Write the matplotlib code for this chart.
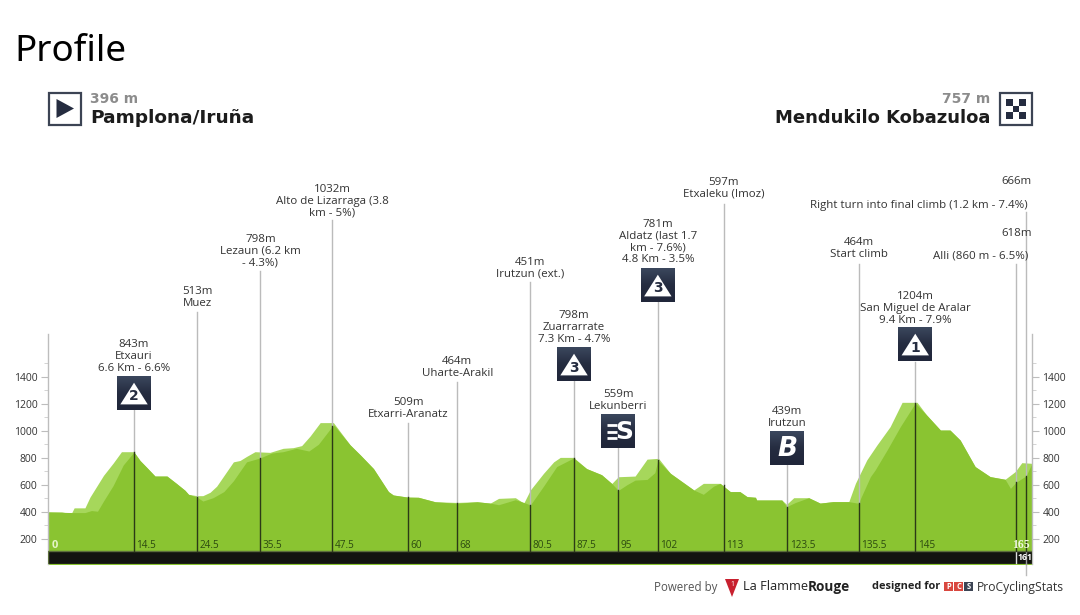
import matplotlib
matplotlib.use("Agg")
import matplotlib.pyplot as plt
import numpy as np
from matplotlib.patches import Rectangle, Polygon

# ---------- data ----------
back_km = [0.1, 2.4, 3, 4.1, 4.5, 6.3, 7.15, 9.4, 11, 12.4, 14.4, 15.5, 16.6, 18, 20, 21.6, 23, 23.6, 25, 26, 27.2, 28.3,
           31.1, 32.2, 33.3, 34.7, 37.2, 39.4, 41.1, 42.5, 43.9, 45.6, 47.8, 50.6, 52.3, 54.5, 57, 57.8, 60.2, 62, 64.8,
           68.4, 71.8, 74, 75.4, 78.2, 79.6, 80.7, 82.9, 84.6, 85.7, 87.9, 90.1, 92.6, 94.3, 95.4, 98.2, 100.2, 102.1,
           104.1, 108, 109.6, 112.4, 114.1, 115.7, 116.9, 118.3, 118.5, 122.7, 123.5, 124.7, 127.2, 129.1, 131.3, 133.9,
           135, 136.9, 138.6, 140.8, 142.8, 145.3, 146.9, 149.2, 150.8, 152.5, 155, 157.5, 160, 161.7, 162.8, 164.5]
back_elev = [400, 400, 395, 395, 430, 430, 510, 670, 760, 845, 845, 780, 730, 665, 665, 610, 560, 530, 520, 520, 545, 590,
             770, 780, 810, 845, 840, 870, 875, 890, 960, 1060, 1060, 895, 821, 720, 550, 525, 510, 508, 475,
             470, 475, 465, 500, 505, 465, 562, 685, 770, 803, 803, 720, 675, 610, 660, 665, 790, 796,
             685, 562, 611, 611, 550, 550, 513, 508, 488, 488, 456, 505, 505, 465, 476, 476,
             611, 784, 895, 1030, 1210, 1210, 1116, 1005, 1005, 931, 735, 661, 641, 698, 764, 759]
front_km = [0.1, 4.1, 6.3, 7.4, 8.4, 9.4, 11, 12.7, 14.5, 15.5, 16.6, 18, 20, 21.6, 23, 23.6, 25, 26, 27.7, 29.5, 31.1,
            33.3, 35.5, 37.5, 39.4, 41.6, 43.7, 45.3, 47.6, 47.9, 50.6, 52.3, 54.5, 57, 57.8, 60.2, 62, 64.8, 68.4,
            71.8, 74, 75.4, 78.2, 79.6, 80.7, 82.9, 85.1, 87.9, 90.1, 92.6, 94.3, 95.4, 96.8, 98.2, 100.2, 101.5, 102,
            104.1, 108, 109.6, 111.3, 112.4, 114.1, 115.7, 116.9, 118.3, 118.5, 122.7, 123.5, 125, 127.2, 129.1, 131.3,
            133.9, 135.5, 137.5, 138.3, 140.3, 142.5, 145, 146.9, 149.2, 150.8, 152.5, 155, 157.5, 160, 160.9, 161.8,
            163.5, 164.5]
front_elev = [400, 395, 395, 410, 405, 480, 594, 747, 843, 780, 730, 665, 665, 610, 560, 530, 510, 480, 505, 550, 630,
              770, 798, 835, 845, 870, 850, 900, 1032, 1040, 895, 821, 720, 550, 525, 509, 508, 475, 464,
              475, 465, 453, 490, 470, 451, 590, 735, 798, 720, 675, 610, 559, 600, 635, 640, 690, 781,
              685, 562, 530, 590, 611, 550, 550, 513, 508, 488, 488, 439, 470, 505, 465, 476,
              476, 464, 660, 710, 858, 1030, 1204, 1116, 1005, 1005, 931, 735, 661, 641, 574, 618,
              666, 759]

mark_km = [14.5, 25.1, 35.6, 47.6, 60.3, 68.5, 80.7, 88, 95.4, 102, 113, 123.6, 135.6, 145, 161.8, 163.5]
mark_elev = [843, 513, 798, 1032, 509, 464, 451, 798, 559, 781, 597, 439, 464, 1204, 618, 666]
km_labels = ["14.5", "24.5", "35.5", "47.5", "60", "68", "80.5", "87.5", "95", "102", "113", "123.5", "135.5", "145", "", ""]
mark_text = [["843m", "Etxauri", "6.6 Km - 6.6%"], ["513m", "Muez"], ["798m", "Lezaun (6.2 km", "- 4.3%)"],
             ["1032m", "Alto de Lizarraga (3.8", "km - 5%)"], ["509m", "Etxarri-Aranatz"], ["464m", "Uharte-Arakil"],
             ["451m", "Irutzun (ext.)"], ["798m", "Zuarrarrate", "7.3 Km - 4.7%"], ["559m", "Lekunberri"],
             ["781m", "Aldatz (last 1.7", "km - 7.6%)", "4.8 Km - 3.5%"], ["597m", "Etxaleku (Imoz)"], ["439m", "Irutzun"],
             ["464m", "Start climb"], ["1204m", "San Miguel de Aralar", "9.4 Km - 7.9%"]]
mark_badge = ["2", "", "", "", "", "", "", "3", "S", "3", "", "B", "", "1"]
yticks = [200, 400, 600, 800, 1000, 1200, 1400]
minor_ticks = [300, 500, 700, 900, 1100, 1300, 1500]

# ---------- layout (pixels) ----------
text_y = [343, 290, 238, 188, 401, 360, 261, 314, 393, 223, 181, 410, 241, 295]
top_y = [410, 312, 271, 220, 423, 382, 282, 381, 448, 302, 204, 465, 264, 362]
badge_y = [377, 0, 0, 0, 0, 0, 0, 348, 415, 269, 0, 432, 0, 328]
FONT = "Open Sans"
NAVY = "#252c40"
W, H = 1080, 615

fig = plt.figure(figsize=(W / 100, H / 100), dpi=100, facecolor="white")
ax = fig.add_axes([48 / W, 1 - 564 / H, 984 / W, 230 / H])
ax.set_xlim(0.13, 164.5)
ax.set_ylim(15, 1715)
ax.patch.set_alpha(0)
ov = fig.add_axes([0, 0, 1, 1], zorder=5)
ov.axis("off")
ov.set_xlim(0, W)
ov.set_ylim(H, 0)

# profile
ax.fill_between(back_km, back_elev, 0, color="#a6d75b", lw=0, zorder=1)
ax.fill_between(front_km, front_elev, 0, color="#8ac431", lw=0, zorder=2)
ax.axhspan(15, 110, facecolor="#121310", edgecolor="#5c6e3c", lw=1, zorder=4)

# axes
for s in ["top", "bottom"]:
    ax.spines[s].set_visible(False)
for s in ["left", "right"]:
    ax.spines[s].set_color("#bdbdbd")
    ax.spines[s].set_linewidth(1)
ax.set_xticks([])
ax.set_yticks(yticks)
ax.set_yticks(minor_ticks, minor=True)
ax.tick_params(axis="y", which="major", left=True, right=True, labelleft=True, labelright=True,
               length=5, color="#bdbdbd", labelsize=7.5, labelcolor="#333333", pad=2.5)
ax.tick_params(axis="y", which="minor", left=True, right=True, length=3, color="#cccccc")
for lab in ax.get_yticklabels():
    lab.set_fontfamily(FONT)


def px(km, elev=0):
    x, y = ax.transData.transform((km, elev))
    return x * W / fig.bbox.width, H - y * H / fig.bbox.height


def label(x, y, s, size=8.25, ha="center", color="#333333", **kw):
    kw.setdefault("family", FONT)
    ov.text(x, y + 1.3, s, fontsize=size, ha=ha, va="center", color=color, **kw)


GRAD = np.array([[0.0], [1.0]])


def badge(x, y, kind):
    b = 34
    ov.imshow(np.linspace(0, 1, 16).reshape(-1, 1), extent=(x - b / 2, x + b / 2, y + 33.5, y), aspect="auto",
              cmap=matplotlib.colors.LinearSegmentedColormap.from_list("b", ["#3a465c", NAVY, "#20263a"]),
              interpolation="bilinear", zorder=3)
    ov.set_xlim(0, W)
    ov.set_ylim(H, 0)
    if kind in "123":
        ov.add_patch(Polygon([(x - 13.7, y + 27.4), (x + 13.7, y + 27.4), (x, y + 5.7)], fc="white", ec="none", zorder=4))
        ov.text(x, y + 19.5, kind, fontsize=10, color=NAVY, weight="bold", family="DejaVu Sans", ha="center", va="center", zorder=5)
    elif kind == "S":
        ov.text(x + 5.5, y + 16.7, "S", fontsize=18, color="white", weight="bold", family="DejaVu Sans", ha="center", va="center", zorder=5)
        for dy in (10, 16.7, 23):
            ov.plot([x - 11.5, x - 1.5], [y + dy, y + dy], color="white", lw=2, solid_capstyle="butt", zorder=5)
    else:
        ov.text(x, y + 16.7, "B", fontsize=19, color="white", weight="bold", style="italic", family="DejaVu Sans", ha="center", va="center", zorder=5)


# marks
for i, km in enumerate(mark_km):
    x, ye = px(km, mark_elev[i])
    _, yb = px(km, 110)
    if i < len(text_y):
        top = top_y[i]
        for j, line in enumerate(mark_text[i]):
            label(x, text_y[i] + j * 11.9, line)
        if mark_badge[i]:
            badge(x, badge_y[i], mark_badge[i])
        ov.plot([x, x], [yb, ye], color="#2c3a17", lw=1, zorder=3)
        if km_labels[i]:
            ov.text(x + 2.5, 546, km_labels[i], fontsize=7.2, family=FONT, color="#2c4a10", ha="left", va="center")
    else:
        top = 264 if km < 163 else 212
        ov.plot([x, x], [yb, ye], color="#2c3a17", lw=1, zorder=3)
    ov.plot([x, x], [top, ye], color="#bbbbbb", lw=1, zorder=2)

# finish marks
label(1032, 232, "618m", ha="right")
label(1028, 255, "Alli (860 m - 6.5%)", ha="right")
label(1032, 180, "666m", ha="right")
label(1028, 204, "Right turn into final climb (1.2 km - 7.4%)", ha="right")
x163, _ = px(163.5)
x161, _ = px(161.8)
ov.plot([x163, x163], [564, 575], color="#bbbbbb", lw=1)
ov.plot([x161, x161], [552, 563], color="#dddddd", lw=1)
ov.plot([x163, x163], [552, 564], color="#999999", lw=1)
ov.text(1017.5, 558, "161", fontsize=6.3, weight="bold", family=FONT, color="white", ha="left", va="center", clip_on=True,
        clip_path=Rectangle((1000, 545), 32, 25, transform=ov.transData))
ov.text(52, 546, "0", fontsize=8, weight="bold", family=FONT, color="#e6f5c8", ha="left", va="center")
ov.text(1030, 545, "165", fontsize=8.5, weight="bold", family="Liberation Serif", color="#eef8dd", ha="right", va="center")

# header
ov.text(14, 52, "Profile", fontsize=26.5, family="Noto Sans", color="black", ha="left", va="center")
for x0 in (48, 999):
    ov.add_patch(Rectangle((x0 + 1, 93), 31.5, 31.5, fc="white", ec="#3c4454", lw=1.6))
ov.add_patch(Polygon([(56.5, 99), (56.5, 118), (74, 108.5)], fc=NAVY, ec="none"))
ov.add_patch(Rectangle((1006, 99), 19.5, 19.5, fc="#e4e4e4", ec="none"))
for r in range(3):
    for c in range(3):
        fc = NAVY if (r + c) % 2 == 0 else "white"
        ov.add_patch(Rectangle((1006 + c * 6.5, 99 + r * 6.5), 6.5, 6.5, fc=fc, ec="none"))
ov.text(90, 99, "396 m", fontsize=10, weight="bold", family="DejaVu Sans", color="#8c8c8c", ha="left", va="center")
ov.text(90, 118, "Pamplona/Iruña", fontsize=13.3, weight="bold", family="DejaVu Sans", color="#1c1c1c", ha="left", va="center")
ov.text(990, 99, "757 m", fontsize=10, weight="bold", family="DejaVu Sans", color="#8c8c8c", ha="right", va="center")
ov.text(990, 118, "Mendukilo Kobazuloa", fontsize=13, weight="bold", family="DejaVu Sans", color="#1c1c1c", ha="right", va="center")

# footer
ov.text(654, 587, "Powered by", fontsize=8.3, family=FONT, color="#555555", ha="left", va="center")
ov.add_patch(Polygon([(725, 579), (739, 579), (732, 597)], fc="#c8202f", ec="none"))
ov.text(732, 585, "1", fontsize=5, color="white", ha="center", va="center", family=FONT)
ov.text(743, 587, "La Flamme", fontsize=9.2, family=FONT, color="#222222", ha="left", va="center")
ov.text(808, 587, "Rouge", fontsize=9.8, weight="bold", family=FONT, color="#222222", ha="left", va="center")
ov.text(872, 587, "designed for", fontsize=7.9, weight="bold", family=FONT, color="#222222", ha="left", va="center")
for x0, col, ch in ((944, "#d9473f", "P"), (954, "#d9473f", "C"), (964, "#3c4454", "S")):
    ov.add_patch(Rectangle((x0, 582), 9, 9, fc=col, ec="none"))
    ov.text(x0 + 4.5, 586.5, ch, fontsize=5.5, weight="bold", color="white", ha="center", va="center", family=FONT)
ov.text(977, 587, "ProCyclingStats", fontsize=8.7, family=FONT, color="#333333", ha="left", va="center")

fig.savefig("out.png", dpi=100)
